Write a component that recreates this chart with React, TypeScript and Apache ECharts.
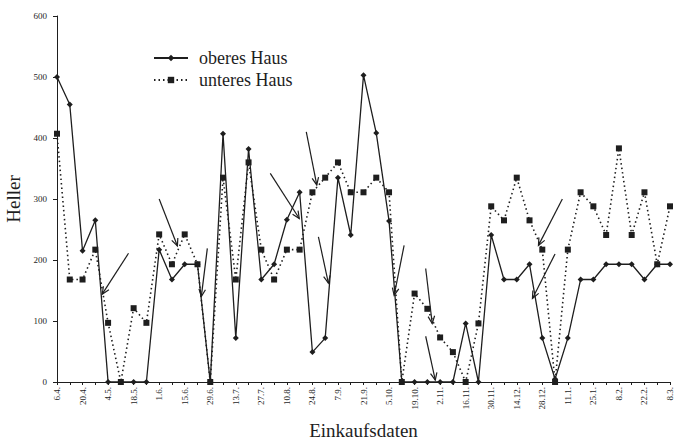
import React, { useEffect, useRef } from "react";
import * as echarts from "echarts";

const categories = [
  "6.4.", "13.4.", "20.4.", "27.4.", "4.5.", "11.5.", "18.5.", "25.5.", "1.6.", "8.6.",
  "15.6.", "22.6.", "29.6.", "6.7.", "13.7.", "20.7.", "27.7.", "3.8.", "10.8.", "17.8.",
  "24.8.", "31.8.", "7.9.", "14.9.", "21.9.", "28.9.", "5.10.", "12.10.", "19.10.", "26.10.",
  "2.11.", "9.11.", "16.11.", "23.11.", "30.11.", "7.12.", "14.12.", "21.12.", "28.12.", "4.1.",
  "11.1.", "18.1.", "25.1.", "1.2.", "8.2.", "15.2.", "22.2.", "1.3.", "8.3.",
];

const oberesHaus = [
  500, 455, 215, 265, 0, 0, 0, 0, 217, 168,
  193, 193, 0, 407, 72, 382, 168, 193, 266, 311,
  49, 72, 335, 241, 503, 408, 264, 0, 0, 0,
  0, 0, 96, 0, 241, 168, 168, 193, 72, 5,
  72, 168, 168, 193, 193, 193, 168, 193, 193,
];

const unteresHaus = [
  407, 168, 168, 217, 97, 0, 121, 97, 242, 193,
  242, 193, 0, 335, 168, 360, 217, 168, 217, 217,
  311, 335, 360, 311, 311, 335, 311, 0, 145, 120,
  73, 49, 0, 96, 288, 265, 335, 265, 217, 0,
  217, 311, 288, 241, 383, 241, 311, 193, 288,
];

// annotation arrows: [fromIndex, fromValue, toIndex, toValue]
const arrows = [
  [5.6, 211, 3.54, 144],
  [8.0, 300, 9.43, 223],
  [11.77, 219, 11.3, 140],
  [16.7, 342, 18.97, 268],
  [19.52, 410, 20.34, 323],
  [20.47, 238, 21.25, 162],
  [27.18, 224, 26.4, 142],
  [28.87, 186, 29.38, 96],
  [28.87, 75, 29.62, 3],
  [39.57, 300, 37.7, 224],
  [39.0, 210, 37.23, 137],
];

const yTicks = [0, 100, 200, 300, 400, 500, 600];

const FONT = "Liberation Serif";
const INK = "#1e1e1e";

export default function App() {
  const ref = useRef<HTMLDivElement>(null);
  useEffect(() => {
    if (!ref.current) return;
    const chart = echarts.init(ref.current, null, { renderer: "svg" });
    chart.setOption({
      animation: false,
      backgroundColor: "#ffffff",
      textStyle: { fontFamily: FONT, color: INK },
      grid: {
        left: 57,
        right: 4,
        top: 16,
        bottom: 59,
        containLabel: false,
        outerBoundsMode: "none",
      },
      legend: {
        left: 153,
        top: 49,
        padding: 0,
        orient: "vertical",
        itemWidth: 34,
        itemHeight: 8,
        itemGap: 4,
        textStyle: { fontFamily: FONT, fontSize: 18, color: INK, padding: [0, 0, 3, 6] },
        data: ["oberes Haus", "unteres Haus"],
      },
      xAxis: [
        {
          type: "category",
          data: categories,
          boundaryGap: false,
          axisLine: { lineStyle: { color: INK, width: 1 } },
          axisTick: { show: true, interval: 0, length: 3, lineStyle: { color: INK } },
          axisLabel: {
            interval: 1,
            rotate: 90,
            fontSize: 9,
            fontFamily: FONT,
            color: INK,
            margin: 5,
          },
          splitLine: { show: false },
          name: "Einkaufsdaten",
          nameLocation: "middle",
          nameGap: 39,
          nameTextStyle: { fontFamily: FONT, fontSize: 19, color: INK },
        },
        {
          type: "value",
          min: 0,
          max: categories.length - 1,
          show: false,
        },
      ],
      yAxis: {
        type: "value",
        min: 0,
        max: 600,
        interval: 100,
        axisLine: { show: true, lineStyle: { color: INK, width: 1 } },
        axisTick: { show: true, length: 4, lineStyle: { color: INK } },
        axisLabel: {
          fontSize: 9,
          fontFamily: FONT,
          color: INK,
          margin: 10,
          formatter: (v: number) => (yTicks.includes(v) ? String(v) : ""),
        },
        splitLine: { show: false },
        name: "Heller",
        nameLocation: "middle",
        nameGap: 33,
        nameTextStyle: { fontFamily: FONT, fontSize: 19, color: INK },
      },
      series: [
        {
          name: "oberes Haus",
          type: "line",
          data: oberesHaus,
          symbol: "diamond",
          symbolSize: 6,
          showAllSymbol: true,
          lineStyle: { color: INK, width: 1.3, type: "solid" },
          itemStyle: { color: INK },
          z: 3,
        },
        {
          name: "unteres Haus",
          type: "line",
          data: unteresHaus,
          symbol: "rect",
          symbolSize: 6,
          showAllSymbol: true,
          lineStyle: { color: INK, width: 1.6, type: [1.5, 3] },
          itemStyle: { color: INK },
          z: 2,
        },
        {
          type: "custom",
          xAxisIndex: 1,
          yAxisIndex: 0,
          silent: true,
          data: arrows,
          z: 4,
          renderItem: (params: any, api: any) => {
            const p1 = api.coord([api.value(0), api.value(1)]);
            const p2 = api.coord([api.value(2), api.value(3)]);
            const ang = Math.atan2(p2[1] - p1[1], p2[0] - p1[0]);
            const L = 8;
            const w = 0.42;
            const a1 = [p2[0] - L * Math.cos(ang - w), p2[1] - L * Math.sin(ang - w)];
            const a2 = [p2[0] - L * Math.cos(ang + w), p2[1] - L * Math.sin(ang + w)];
            return {
              type: "group",
              children: [
                {
                  type: "line",
                  shape: { x1: p1[0], y1: p1[1], x2: p2[0], y2: p2[1] },
                  style: { stroke: INK, lineWidth: 1.2 },
                },
                {
                  type: "polyline",
                  shape: { points: [a1, p2, a2] },
                  style: { stroke: INK, lineWidth: 1.2, fill: "none" },
                },
              ],
            };
          },
        },
      ],
    });
    return () => chart.dispose();
  }, []);
  return (
    <div
      ref={ref}
      style={{ position: "absolute", left: 0, top: 0, width: 674, height: 441 }}
    />
  );
}
